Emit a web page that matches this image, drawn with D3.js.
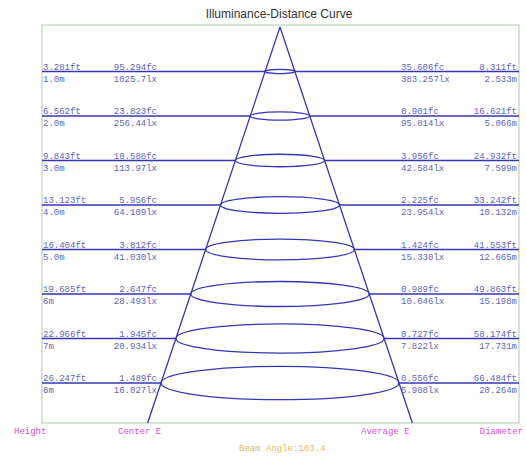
<!DOCTYPE html>
<html><head><meta charset="utf-8">
<script src="https://cdn.jsdelivr.net/npm/d3@7"></script>
<style>body{margin:0;background:#fff}svg{display:block}</style>
</head><body>
<script>
const distances = [1, 2, 3, 4, 5, 6, 7, 8];
const heightM = ["1.0m","2.0m","3.0m","4.0m","5.0m","6m","7m","8m"];
const heightFt = ["3.281ft","6.562ft","9.843ft","13.123ft","16.404ft","19.685ft","22.966ft","26.247ft"];
const centerFc = ["95.294fc","23.823fc","10.588fc","5.956fc","3.812fc","2.647fc","1.945fc","1.489fc"];
const centerLx = ["1025.7lx","256.44lx","113.97lx","64.109lx","41.030lx","28.493lx","20.934lx","16.027lx"];
const avgFc = ["35.606fc","8.901fc","3.956fc","2.225fc","1.424fc","0.989fc","0.727fc","0.556fc"];
const avgLx = ["383.257lx","95.814lx","42.584lx","23.954lx","15.330lx","10.646lx","7.822lx","5.988lx"];
const diameterM = [2.533, 5.066, 7.599, 10.132, 12.665, 15.198, 17.731, 20.264];
const diameterFt = ["8.311ft","16.621ft","24.932ft","33.242ft","41.553ft","49.863ft","58.174ft","66.484ft"];
const beamAngle = 103.4;

const W = 526, H = 457;
const frame = {left: 42, right: 519, top: 25, bottom: 423};
const apexX = 280, apexY = 27;

const svg = d3.select("body").append("svg").attr("width", W).attr("height", H);

const y = d3.scaleLinear().domain([0, 8]).range([apexY, 383]);
const r = d3.scaleLinear().domain([0, diameterM[7] / 2]).range([0, 119]);

const blue = "#3636b4", txt = "#6464b8";

svg.append("text").attr("x", 279).attr("y", 18).attr("text-anchor", "middle")
  .attr("font-family", "Liberation Sans, Arial, sans-serif").attr("font-size", 12)
  .attr("fill", "#333").text("Illuminance-Distance Curve");

svg.append("rect").attr("x", frame.left).attr("y", frame.top)
  .attr("width", frame.right - frame.left).attr("height", frame.bottom - frame.top)
  .attr("fill", "none").attr("stroke", "#bcd2b8").attr("stroke-width", 1.2);

// horizontal lines, split at the cone edges
const hl = svg.append("g").attr("stroke", blue).attr("stroke-width", 1.4);
hl.selectAll("line.l").data(distances).join("line").attr("class", "l")
  .attr("x1", frame.left).attr("x2", (d, i) => apexX - r(diameterM[i] / 2))
  .attr("y1", d => y(d)).attr("y2", d => y(d));
hl.selectAll("line.r").data(distances).join("line").attr("class", "r")
  .attr("x1", (d, i) => apexX + r(diameterM[i] / 2)).attr("x2", frame.right)
  .attr("y1", d => y(d)).attr("y2", d => y(d));

// ellipses
svg.append("g").selectAll("ellipse").data(distances).join("ellipse")
  .attr("cx", apexX).attr("cy", d => y(d))
  .attr("rx", (d, i) => r(diameterM[i] / 2))
  .attr("ry", (d, i) => r(diameterM[i] / 2) * 0.14)
  .attr("fill", "none").attr("stroke", blue).attr("stroke-width", 1.3);

// cone edges extended to frame bottom
const ratio = (diameterM[7] / 2) / distances[7];
const dBottom = y.invert(frame.bottom);
[-1, 1].forEach(s => {
  svg.append("line").attr("x1", apexX).attr("y1", apexY)
    .attr("x2", apexX + s * r(ratio * dBottom)).attr("y2", frame.bottom)
    .attr("stroke", blue).attr("stroke-width", 1.3);
});

const mono = "Liberation Mono, DejaVu Sans Mono, monospace";
const g = svg.append("g").attr("font-family", mono).attr("font-size", 9).attr("fill", txt);
distances.forEach((d, i) => {
  const yy = y(d);
  g.append("text").attr("x", 43).attr("y", yy - 2).text(heightFt[i]);
  g.append("text").attr("x", 43).attr("y", yy + 10).text(heightM[i]);
  g.append("text").attr("x", 157).attr("y", yy - 2).attr("text-anchor", "end").text(centerFc[i]);
  g.append("text").attr("x", 157).attr("y", yy + 10).attr("text-anchor", "end").text(centerLx[i]);
  g.append("text").attr("x", 401).attr("y", yy - 2).text(avgFc[i]);
  g.append("text").attr("x", 401).attr("y", yy + 10).text(avgLx[i]);
  g.append("text").attr("x", 517).attr("y", yy - 2).attr("text-anchor", "end").text(diameterFt[i]);
  g.append("text").attr("x", 517).attr("y", yy + 10).attr("text-anchor", "end").text(diameterM[i].toFixed(3) + "m");
});

const magenta = "#e04ee0";
const b = svg.append("g").attr("font-family", mono).attr("font-size", 9).attr("fill", magenta);
b.append("text").attr("x", 14).attr("y", 434).text("Height");
b.append("text").attr("x", 118).attr("y", 434).text("Center E");
b.append("text").attr("x", 361).attr("y", 434).text("Average E");
b.append("text").attr("x", 523).attr("y", 434).attr("text-anchor", "end").text("Diameter");

svg.append("text").attr("x", 239).attr("y", 451).attr("font-family", mono).attr("font-size", 9)
  .attr("fill", "#e6bd5a").text("Beam Angle:" + beamAngle);
</script>
</body></html>
